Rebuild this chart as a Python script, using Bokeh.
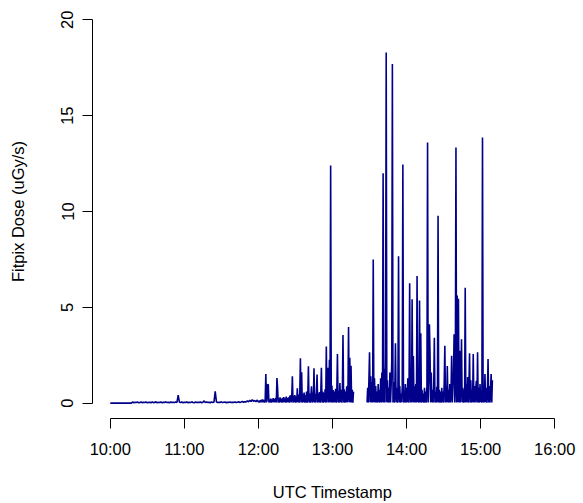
from bokeh.plotting import figure
from bokeh.models import Range1d, FixedTicker
from bokeh.embed import file_html
from bokeh.resources import INLINE

# ---------------- data ----------------
x_tick_labels = ["10:00", "11:00", "12:00", "13:00", "14:00", "15:00", "16:00"]
y_ticks = [0, 5, 10, 15, 20]

# segment A: 10:00 .. 11:59, one sample per minute
seg_a_start = "10:00"
seg_a_step_min = 1.0
seg_a_values = [
    0, 0, 0, 0, 0, 0, 0, 0, 0, 0, 0, 0, 0, 0, 0, 0, 0, 0, 0.06, 0.02,
    0.05, 0.03, 0.07, 0.02, 0.04, 0.06, 0.02, 0.05, 0.03, 0.06, 0.02, 0.04, 0.05, 0.02, 0.06, 0.03, 0.04, 0.07, 0.02, 0.05,
    0.03, 0.06, 0.02, 0.05, 0.04, 0.07, 0.03, 0.05, 0.02, 0.06, 0.04, 0.05, 0.03, 0.06, 0.04, 0.42, 0.05, 0.03, 0.06, 0.02,
    0.05, 0.04, 0.06, 0.02, 0.05, 0.03, 0.07, 0.04, 0.02, 0.06, 0.03, 0.05, 0.04, 0.06, 0.02, 0.05, 0.12, 0.03, 0.06, 0.04,
    0.05, 0.02, 0.06, 0.04, 0.05, 0.62, 0.06, 0.03, 0.05, 0.04, 0.07, 0.03, 0.05, 0.06, 0.02, 0.05, 0.04, 0.06, 0.03, 0.05,
    0.04, 0.06, 0.03, 0.05, 0.07, 0.04, 0.06, 0.09, 0.05, 0.08, 0.06, 0.12, 0.07, 0.15, 0.09, 0.18, 0.1, 0.14, 0.08, 0.16,
]

# segment B: 12:00 .. 13:17, one sample per half minute
seg_b_start = "12:00"
seg_b_step_min = 0.5
seg_b_values = [
    0.05, 0.12, 0.03, 0.15, 0.06, 0.18, 0.04, 0.2, 0.05, 0.16,
    0.03, 0.22, 1.52, 0.04, 0.15, 0.98, 0.96, 0.03, 0.18, 0.05,
    0.24, 0.03, 0.2, 0.06, 0.26, 0.04, 0.22, 0.05, 0.28, 0.03,
    1.31, 0.81, 0.04, 0.25, 0.03, 0.3, 0.05, 0.22, 0.03, 0.28,
    0.04, 0.32, 0.05, 0.25, 0.03, 0.35, 0.04, 0.28, 0.05, 0.3,
    0.03, 0.36, 0.4, 0.04, 0.32, 1.4, 0.03, 0.38, 0.05, 0.42,
    0.03, 0.35, 0.04, 0.78, 0.05, 0.45, 0.03, 0.5, 2.34, 0.04,
    1.61, 0.03, 0.48, 0.05, 0.55, 0.03, 0.42, 0.04, 0.6, 0.03,
    0.45, 1.92, 0.04, 0.5, 0.03, 0.4, 0.88, 0.03, 0.55, 0.05,
    1.82, 0.03, 0.48, 0.04, 0.62, 1.5, 0.03, 0.52, 0.05, 0.58,
    0.03, 0.45, 1.85, 0.04, 0.6, 0.03, 0.55, 0.05, 0.72, 0.03,
    2.96, 0.04, 0.65, 1.85, 0.03, 2.27, 0.05, 12.4, 0.04, 0.92,
    0.03, 0.68, 0.04, 0.6, 0.05, 0.75, 0.03, 0.58, 2.56, 0.04,
    0.65, 0.03, 1.05, 0.05, 0.7, 0.03, 0.62, 3.55, 0.04, 0.72,
    0.03, 0.6, 0.05, 0.88, 0.04, 0.5, 3.98, 0.05, 2.37, 0.03,
    1.95, 0.04, 0.7, 0.03, 0.6,
]

# segment C: 13:28 .. 15:09:30, one sample per half minute
seg_c_start = "13:28"
seg_c_step_min = 0.5
seg_c_values = [
    0.04, 0.8, 0.03, 1.2, 2.66, 0.05, 1.4, 0.03, 1.1, 0.04,
    7.49, 0.05, 1.3, 0.03, 0.9, 0.04, 0.6, 0.03, 1.0, 0.05,
    0.7, 0.03, 1.3, 0.04, 1.6, 0.05, 12.0, 0.03, 1.8, 0.04,
    2.4, 18.3, 0.05, 1.2, 0.03, 0.8, 0.04, 1.6, 0.03, 0.9,
    2.2, 17.7, 0.04, 1.1, 0.03, 0.7, 3.13, 0.05, 0.8, 0.03,
    0.6, 7.67, 0.04, 0.9, 0.03, 0.5, 0.05, 0.85, 12.45, 0.03,
    0.6, 0.04, 1.0, 0.03, 0.8, 0.05, 1.3, 0.03, 0.7, 6.25,
    0.04, 1.3, 0.03, 5.42, 0.05, 2.46, 0.03, 0.9, 0.04, 1.0,
    0.03, 6.63, 0.05, 0.8, 0.03, 5.35, 0.04, 3.65, 0.03, 0.7,
    0.05, 0.5, 0.03, 0.8, 0.04, 0.6, 0.03, 0.9, 13.6, 0.04,
    1.2, 4.12, 2.56, 0.03, 1.6, 0.05, 0.7, 0.03, 0.9, 3.41,
    0.04, 0.6, 0.03, 0.85, 0.05, 9.78, 0.03, 0.7, 0.04, 0.6,
    0.03, 0.8, 0.05, 0.6, 0.03, 1.1, 2.99, 0.04, 0.9, 0.03,
    1.94, 0.05, 0.7, 0.03, 1.0, 0.04, 0.6, 2.47, 0.03, 0.9,
    1.52, 3.6, 0.04, 1.2, 13.34, 0.03, 5.62, 0.05, 5.45, 0.04,
    2.73, 0.03, 1.0, 3.34, 0.05, 0.8, 0.03, 0.7, 0.04, 6.02,
    0.03, 1.0, 0.05, 1.37, 0.03, 0.8, 2.61, 0.04, 1.2, 0.03,
    0.7, 0.05, 2.56, 0.03, 0.9, 0.04, 0.7, 1.17, 0.03, 2.65,
    0.04, 0.8, 0.03, 1.0, 0.05, 0.6, 0.03, 13.86, 0.04, 0.9,
    0.03, 1.52, 0.05, 0.8, 0.03, 0.6, 2.3, 0.04, 0.9, 0.03,
    0.7, 1.52, 0.04, 1.2,
]


def hhmm_to_hours(s):
    h, m = s.split(":")
    return int(h) + int(m) / 60.0


def sample_times(start, step_min, n):
    t0 = hhmm_to_hours(start)
    return [t0 + i * step_min / 60.0 for i in range(n)]


x_ticks = [hhmm_to_hours(s) for s in x_tick_labels]

xa = sample_times(seg_a_start, seg_a_step_min, len(seg_a_values))
xb = sample_times(seg_b_start, seg_b_step_min, len(seg_b_values))
xc = sample_times(seg_c_start, seg_c_step_min, len(seg_c_values))

# ---------------- figure ----------------
FONT = "Liberation Sans"
FS = "16.5px"

x_pad = (x_ticks[-1] - x_ticks[0]) * 0.04
y_pad = (y_ticks[-1] - y_ticks[0]) * 0.04

p = figure(
    width=583, height=503,
    output_backend="svg", toolbar_location=None,
    x_range=Range1d(x_ticks[0] - x_pad, x_ticks[-1] + x_pad),
    y_range=Range1d(y_ticks[0] - y_pad, y_ticks[-1] + y_pad),
    min_border_left=92, min_border_right=11,
    min_border_top=4, min_border_bottom=83,
)
p.background_fill_color = "white"
p.border_fill_color = "white"
p.outline_line_color = None
p.grid.visible = False

p.line(xa + xb, seg_a_values + seg_b_values, line_color="#00008B", line_width=1.6)
p.line(xc, seg_c_values, line_color="#00008B", line_width=1.6)

for ax in (p.xaxis[0], p.yaxis[0]):
    ax.axis_line_color = "black"
    ax.axis_line_width = 1
    ax.major_tick_line_color = "black"
    ax.major_tick_in = 0
    ax.major_tick_out = 10
    ax.minor_tick_line_color = None
    ax.major_label_text_font = FONT
    ax.major_label_text_font_size = FS
    ax.major_label_text_color = "black"
    ax.axis_label_text_font = FONT
    ax.axis_label_text_font_size = FS
    ax.axis_label_text_font_style = "normal"
    ax.axis_label_text_color = "black"

p.xaxis.ticker = FixedTicker(ticks=x_ticks)
p.xaxis.major_label_overrides = {t: lab for t, lab in zip(x_ticks, x_tick_labels)}
p.xaxis.bounds = (x_ticks[0], x_ticks[-1])
p.xaxis.major_label_standoff = 11
p.xaxis.axis_label = "UTC Timestamp"
p.xaxis.axis_label_standoff = 22

p.yaxis.ticker = FixedTicker(ticks=y_ticks)
p.yaxis.bounds = (y_ticks[0], y_ticks[-1])
p.yaxis.major_label_orientation = "vertical"
p.yaxis.major_label_standoff = 9
p.yaxis.axis_label = "Fitpix Dose (uGy/s)"
p.yaxis.axis_label_standoff = 32

open("out.html", "w").write(file_html(p, INLINE))
